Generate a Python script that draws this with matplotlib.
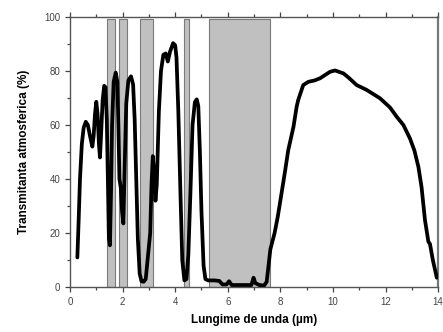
import matplotlib.pyplot as plt
from matplotlib.ticker import MultipleLocator

plt.rcParams['font.family'] = ['Liberation Sans', 'DejaVu Sans']

# lungime de unda (um) si transmitanta (%)
wl = [0.28, 0.33, 0.38, 0.45, 0.52, 0.6, 0.68, 0.76, 0.85, 0.9, 0.95, 1.0, 1.05,
      1.1, 1.14, 1.18, 1.24, 1.3, 1.35, 1.4, 1.44, 1.48, 1.52, 1.56, 1.6, 1.66,
      1.74, 1.8, 1.84, 1.88, 1.93, 1.98, 2.03, 2.08, 2.14, 2.22, 2.32, 2.4, 2.46,
      2.52, 2.58, 2.65, 2.72, 2.8, 2.88, 2.95, 2.98, 3.05, 3.1, 3.15, 3.2, 3.25,
      3.3, 3.38, 3.46, 3.55, 3.64, 3.72, 3.8, 3.92, 4.0, 4.05, 4.12, 4.2, 4.27,
      4.35, 4.43, 4.5, 4.58, 4.66, 4.75, 4.82, 4.88, 4.94, 5.0, 5.08, 5.15, 5.25,
      5.5, 5.68, 5.8, 5.95, 6.05, 6.15, 6.5, 6.9, 6.98, 7.05, 7.2, 7.38, 7.48,
      7.55, 7.62, 7.7, 7.78, 7.9, 8.0, 8.18, 8.3, 8.5, 8.62, 8.68, 8.87, 9.07,
      9.3, 9.51, 9.7, 9.89, 10.08, 10.25, 10.4, 10.6, 10.9, 11.28, 11.79, 12.17,
      12.43, 12.68, 12.93, 13.1, 13.25, 13.37, 13.5, 13.63, 13.69, 13.8, 13.95]
trans = [11, 25, 40, 53, 59, 61.2, 60, 56, 52, 56, 64, 68.6, 64,
         53, 48, 56, 69, 74.5, 74, 62, 40, 18, 15.5, 35, 60, 76,
         79.4, 76, 60, 40, 37, 28, 23.6, 45, 68, 76.5, 78, 75, 62,
         40, 18, 5, 2.2, 2, 3, 10, 13, 20, 38, 48.5, 42, 32,
         38, 65, 80, 86, 86.5, 83.5, 87, 90.3, 89.5, 85, 65, 35, 10,
         2.5, 3, 12, 35, 60, 68.5, 69.5, 67, 50, 28, 8, 3, 2.5,
         2.5, 2.3, 1.0, 1.0, 2.2, 0.8, 0.8, 0.8, 3.5, 1.5, 0.8, 0.6, 2,
         8, 14, 17, 20, 26, 32, 43, 50.7, 59.4, 66.8, 69.3, 74.8, 76,
         76.5, 77.3, 78.5, 79.7, 80.2, 79.6, 79.1, 77.5, 74.8, 73, 69.9, 66.5,
         63, 60, 55, 50.5, 44.5, 37, 24.8, 16.8, 16, 10, 3.5]

# benzi de absorbtie (inceput, sfarsit)
band_start = [1.42, 1.86, 2.66, 4.34, 5.28]
band_end = [1.73, 2.16, 3.14, 4.54, 7.61]
band_top = 99.4

fig = plt.figure(figsize=(4.43, 3.32), dpi=100)
ax = fig.add_axes([0.158, 0.135, 0.831, 0.814])

for a, b in zip(band_start, band_end):
    ax.fill_between([a, b], 0, band_top, facecolor='#c0c0c0', edgecolor='#7a7a7a',
                    linewidth=0.8, zorder=1)

ax.plot(wl, trans, color='black', linewidth=2.7, solid_joinstyle='round',
        solid_capstyle='round', zorder=3)

ax.set_xlim(0, 14)
ax.set_ylim(0, 100)
ax.xaxis.set_major_locator(MultipleLocator(2))
ax.xaxis.set_minor_locator(MultipleLocator(1))
ax.yaxis.set_major_locator(MultipleLocator(20))
ax.yaxis.set_minor_locator(MultipleLocator(10))
ax.tick_params(which='both', direction='out', top=True, right=False,
               colors='#444444', labelsize=7, width=0.9)
ax.tick_params(which='major', length=3.5)
ax.tick_params(which='minor', length=2)
for s in ax.spines.values():
    s.set_color('#555555')
    s.set_linewidth(1.0)
ax.spines['right'].set_color('#777777')
ax.spines['right'].set_linewidth(1.6)

ax.set_xlabel('Lungime de unda (µm)', fontsize=8.5, fontweight='bold', labelpad=5)
ax.set_ylabel('Transmitanta atmosferica (%)', fontsize=8.5, fontweight='bold', labelpad=10)

fig.savefig('out.png', dpi=100)
